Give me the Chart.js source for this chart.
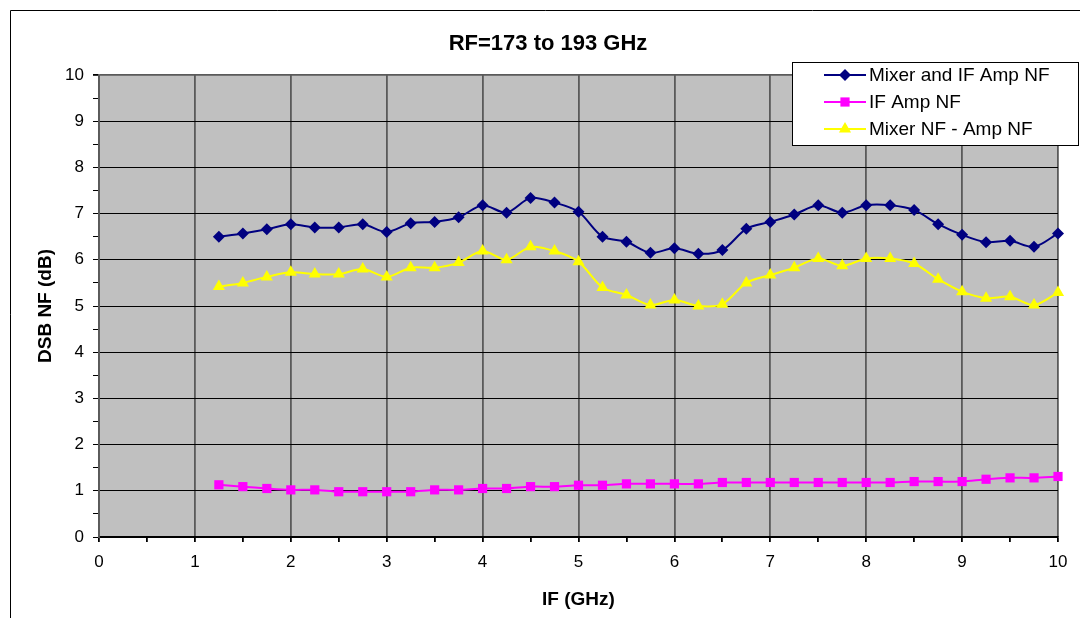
<!DOCTYPE html>
<html>
<head>
<meta charset="utf-8">
<script src="https://cdn.jsdelivr.net/npm/chart.js@4.4.1/dist/chart.umd.min.js"></script>
<style>
  html, body { margin: 0; padding: 0; background: #ffffff; }
  #wrap { width: 1080px; height: 618px; position: relative; }
</style>
</head>
<body>
<div id="wrap"><canvas id="c" width="1080" height="618"></canvas></div>
<script>
const chartTitle = 'RF=173 to 193 GHz';
const xTitle = 'IF (GHz)';
const yTitle = 'DSB NF (dB)';
const seriesNames = ['Mixer and IF Amp NF', 'IF Amp NF', 'Mixer NF - Amp NF'];

const ifGHz = [1.25, 1.5, 1.75, 2, 2.25, 2.5, 2.75, 3, 3.25, 3.5, 3.75, 4,
               4.25, 4.5, 4.75, 5, 5.25, 5.5, 5.75, 6, 6.25, 6.5, 6.75, 7,
               7.25, 7.5, 7.75, 8, 8.25, 8.5, 8.75, 9, 9.25, 9.5, 9.75, 10];

const mixerAndIfAmpNF = [6.50, 6.57, 6.66, 6.77, 6.70, 6.70, 6.77, 6.60, 6.79, 6.82, 6.92, 7.18,
                         7.02, 7.34, 7.24, 7.04, 6.50, 6.39, 6.15, 6.25, 6.13, 6.21, 6.67, 6.82,
                         6.98, 7.18, 7.02, 7.18, 7.18, 7.08, 6.77, 6.54, 6.38, 6.41, 6.28, 6.57];

const ifAmpNF = [1.13, 1.09, 1.05, 1.02, 1.02, 0.98, 0.98, 0.98, 0.98, 1.02, 1.02, 1.05,
                 1.05, 1.09, 1.09, 1.12, 1.12, 1.15, 1.15, 1.15, 1.15, 1.18, 1.18, 1.18,
                 1.18, 1.18, 1.18, 1.18, 1.18, 1.20, 1.20, 1.20, 1.25, 1.28, 1.28, 1.31];

const mixerNFMinusAmpNF = [5.42, 5.50, 5.63, 5.73, 5.69, 5.69, 5.80, 5.63, 5.83, 5.83, 5.94, 6.19,
                           6.00, 6.28, 6.19, 5.96, 5.40, 5.24, 5.02, 5.13, 5.00, 5.04, 5.50, 5.67,
                           5.83, 6.03, 5.87, 6.03, 6.03, 5.92, 5.58, 5.31, 5.17, 5.20, 5.02, 5.29];

const xTicks = [0, 1, 2, 3, 4, 5, 6, 7, 8, 9, 10];
const yTicks = [0, 1, 2, 3, 4, 5, 6, 7, 8, 9, 10];

const FONT = "'Liberation Sans', Arial, sans-serif";

function pts(ys) { return ifGHz.map((x, i) => ({ x: x, y: ys[i] })); }

const isMajor = v => Math.abs(v - Math.round(v)) < 1e-9;

// outer chart border + plot background
const framePlugin = {
  id: 'frame',
  beforeDraw(chart) {
    const { ctx, chartArea: a } = chart;
    ctx.save();
    ctx.fillStyle = '#ffffff';
    ctx.fillRect(0, 0, chart.width, chart.height);
    ctx.strokeStyle = '#000000';
    ctx.lineWidth = 1;
    ctx.beginPath();
    ctx.moveTo(10.5, chart.height);
    ctx.lineTo(10.5, 10.5);
    ctx.lineTo(chart.width, 10.5);
    ctx.stroke();
    ctx.fillStyle = '#c0c0c0';
    ctx.fillRect(a.left, a.top, a.right - a.left, a.bottom - a.top);
    ctx.restore();
  }
};

// legend drawn from datasets
const boxLegend = {
  id: 'boxLegend',
  afterDraw(chart) {
    const { ctx } = chart;
    const bx = 792, by = 62, bw = 286, bh = 83;
    ctx.save();
    ctx.fillStyle = '#ffffff';
    ctx.fillRect(bx, by, bw, bh);
    ctx.strokeStyle = '#000000';
    ctx.lineWidth = 1;
    ctx.strokeRect(bx + 0.5, by + 0.5, bw, bh);
    ctx.font = '19px ' + FONT;
    ctx.textBaseline = 'middle';
    ctx.textAlign = 'left';
    chart.data.datasets.forEach((ds, i) => {
      const y = by + 13 + i * 27;
      ctx.strokeStyle = ds.borderColor;
      ctx.lineWidth = ds.borderWidth;
      ctx.beginPath();
      ctx.moveTo(824, y);
      ctx.lineTo(866, y);
      ctx.stroke();
      ctx.fillStyle = ds.pointBackgroundColor;
      Chart.helpers.drawPoint(ctx, {
        pointStyle: ds.pointStyle, radius: ds.pointRadius, rotation: 0, borderWidth: 0
      }, 845, y);
      ctx.fillStyle = '#000000';
      ctx.fillText(ds.label, 869, y + 1);
    });
    ctx.restore();
  }
};

new Chart(document.getElementById('c'), {
  type: 'line',
  data: {
    datasets: [
      {
        label: seriesNames[0], data: pts(mixerAndIfAmpNF),
        borderColor: '#000080', backgroundColor: '#000080', pointBackgroundColor: '#000080',
        pointBorderColor: '#000080', borderWidth: 2, pointStyle: 'rectRot', pointRadius: 6,
        pointBorderWidth: 0, tension: 0.3, clip: false
      },
      {
        label: seriesNames[1], data: pts(ifAmpNF),
        borderColor: '#ff00ff', backgroundColor: '#ff00ff', pointBackgroundColor: '#ff00ff',
        pointBorderColor: '#ff00ff', borderWidth: 2, pointStyle: 'rect', pointRadius: 6.5,
        pointBorderWidth: 0, tension: 0.3, clip: false
      },
      {
        label: seriesNames[2], data: pts(mixerNFMinusAmpNF),
        borderColor: '#ffff00', backgroundColor: '#ffff00', pointBackgroundColor: '#ffff00',
        pointBorderColor: '#ffff00', borderWidth: 2, pointStyle: 'triangle', pointRadius: 7,
        pointBorderWidth: 0, tension: 0.3, clip: false
      }
    ]
  },
  options: {
    responsive: false,
    animation: false,
    devicePixelRatio: 1,
    layout: { padding: { left: 38, right: 22, top: 0, bottom: 0 } },
    plugins: {
      legend: { display: false },
      tooltip: { enabled: false },
      title: {
        display: true, text: chartTitle, color: '#000000',
        font: { family: FONT, size: 22, weight: 'bold', lineHeight: 1.2 },
        padding: { top: 31, bottom: 17.6 }
      }
    },
    scales: {
      x: {
        type: 'linear', min: 0, max: 10,
        afterBuildTicks(s) {
          const t = [];
          xTicks.forEach((v, i) => { t.push({ value: v }); if (i < xTicks.length - 1) t.push({ value: v + 0.5 }); });
          s.ticks = t;
        },
        afterFit(s) { s.height = 81; },
        ticks: {
          autoSkip: false, maxRotation: 0, padding: 10, color: '#000000',
          font: { family: FONT, size: 17 },
          callback: v => isMajor(v) ? String(v) : ''
        },
        grid: {
          color: c => isMajor(c.tick.value) ? '#5a5a5a' : 'rgba(0,0,0,0)',
          tickColor: '#000000', lineWidth: 1.8, tickLength: 5, drawOnChartArea: true
        },
        border: { color: '#000000', width: 1.5 },
        title: {
          display: true, text: xTitle, color: '#000000',
          font: { family: FONT, size: 19, weight: 'bold', lineHeight: 1.2 },
          padding: { top: 0, bottom: 6.6 }
        }
      },
      y: {
        type: 'linear', min: 0, max: 10,
        afterBuildTicks(s) {
          const t = [];
          yTicks.forEach((v, i) => { t.push({ value: v }); if (i < yTicks.length - 1) t.push({ value: v + 0.5 }); });
          s.ticks = t;
        },
        afterFit(s) { s.width = 61; },
        ticks: {
          autoSkip: false, padding: 9, color: '#000000',
          font: { family: FONT, size: 17 },
          callback: v => isMajor(v) ? String(v) : ''
        },
        grid: {
          color: c => !isMajor(c.tick.value) ? 'rgba(0,0,0,0)' : (c.tick.value === 10 ? '#5a5a5a' : '#000000'),
          lineWidth: c => (c.tick && c.tick.value === 10) ? 1.8 : 1,
          tickColor: '#000000', tickLength: 6, drawOnChartArea: true
        },
        border: { color: '#5a5a5a', width: 1.8 },
        title: {
          display: true, text: yTitle, color: '#000000',
          font: { family: FONT, size: 19, weight: 'bold', lineHeight: 1.2 },
          padding: { top: -3.5, bottom: 0 }
        }
      }
    }
  },
  plugins: [framePlugin, boxLegend]
});
</script>
</body>
</html>
